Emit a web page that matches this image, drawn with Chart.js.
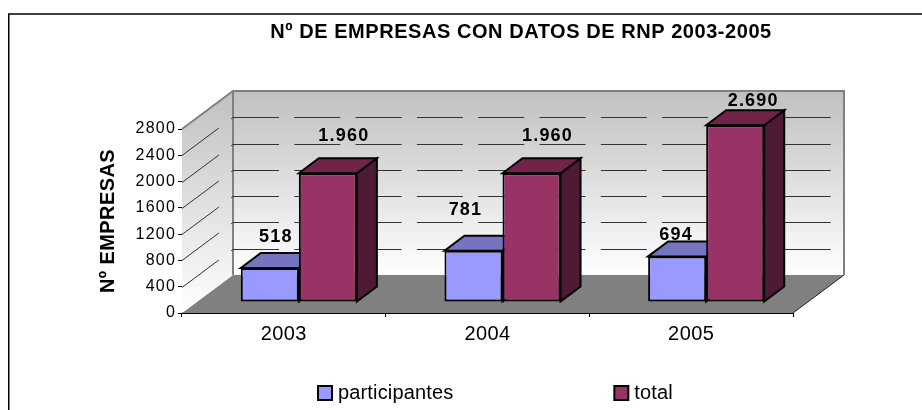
<!DOCTYPE html>
<html><head><meta charset="utf-8">
<style>html,body{margin:0;padding:0;background:#fff}canvas{display:block}</style>
<script src="https://cdn.jsdelivr.net/npm/chart.js@4"></script></head>
<body><canvas id="c" width="922" height="410"></canvas>
<script>
const categories = ["2003","2004","2005"];
const participantes = [518,781,694];
const total = [1960,1960,2690];
const yTicks = [0,400,800,1200,1600,2000,2400,2800];
const participantesLabels = ["518","781","694"];
const totalLabels = ["1.960","1.960","2.690"];
const labelNudgeP = [[6,-31],[-8,-41],[-1,-21]];
const labelNudgeT = [[16,-37],[16,-37],[18,-24]];
const DX=51, DY=38, BX=15, BY=11, BDX=20, BDY=15;
const FONT='"Liberation Sans", Arial, sans-serif';

function face(ctx,pts,fill){
  ctx.beginPath();pts.forEach((p,i)=>i?ctx.lineTo(p[0],p[1]):ctx.moveTo(p[0],p[1]));ctx.closePath();
  ctx.fillStyle=fill;ctx.fill();ctx.strokeStyle='#000';ctx.lineWidth=2;ctx.lineJoin='miter';ctx.stroke();
}
function spaced(obj,name,px,tx){
  const f=obj[name];
  obj[name]=function(){
    const c=this.ctx||this.chart.ctx;c.letterSpacing=px;
    const ft=c.fillText;
    if(tx)c.fillText=function(s,x,y){return ft.call(c,s,x+tx,y);};
    const r=f.apply(this,arguments);
    if(tx)delete c.fillText;
    c.letterSpacing='0px';return r;
  };
}
const scene={
  id:'scene',
  beforeInit(chart){
    const lg=chart.legend;
    if(lg){const f=lg.fit;lg.fit=function(){f.call(this);this.height=36;};}
  },
  afterLayout(chart){
    const lg=chart.legend,ti=chart.titleBlock;
    const w=lg.lineWidths?lg.lineWidths[0]:0;
    // legend: first box starts at x=318, row starts at y=383
    const shift=318-((lg.left+lg.right-w+157)/2);
    lg.left+=shift;lg.right+=shift;
    lg.top=383-157;lg.bottom=410;
    const mid=(ti.left+ti.right)/2,ts=521-mid;
    ti.left+=ts;ti.right+=ts;
    if(!chart._sp){chart._sp=1;
      spaced(chart.scales.x,'drawLabels','0.4px');
      spaced(chart.scales.y,'drawLabels','1.2px');
      spaced(chart.scales.y,'drawTitle','0.4px');
      spaced(ti,'draw','0.55px');
      spaced(lg,'draw','0.15px',-4);
    }
  },
  beforeDraw(chart){
    const c=chart.ctx;
    c.save();c.fillStyle='#fff';c.fillRect(0,0,922,410);
    c.strokeStyle='#000';c.lineWidth=1.5;
    c.beginPath();c.moveTo(922,14);c.lineTo(8.75,14);c.lineTo(8.75,410);c.stroke();
    c.restore();
  },
  beforeDatasetsDraw(chart){
    const c=chart.ctx,{left:l,right:r,top:t,bottom:b}=chart.chartArea,y=chart.scales.y;
    c.save();
    // floor
    c.beginPath();c.moveTo(l,b);c.lineTo(l+DX,b-DY);c.lineTo(r+DX,b-DY);c.lineTo(r,b);c.closePath();
    c.fillStyle='#808080';c.fill();
    c.beginPath();c.moveTo(r,b);c.lineTo(r+DX,b-DY);c.strokeStyle='#222';c.lineWidth=1;c.stroke();
    // walls
    const g=c.createLinearGradient(0,t-DY,0,b-DY);g.addColorStop(0,'#c0c0c0');g.addColorStop(1,'#ffffff');
    c.fillStyle=g;c.fillRect(l+DX,t-DY,r-l,b-t);
    const g2=c.createLinearGradient(0,t-DY,0,b);g2.addColorStop(0,'#c0c0c0');g2.addColorStop(1,'#ffffff');
    c.beginPath();c.moveTo(l,t);c.lineTo(l+DX,t-DY);c.lineTo(l+DX,b-DY);c.lineTo(l,b);c.closePath();c.fillStyle=g2;c.fill();
    c.strokeStyle='#808080';c.lineWidth=2;
    c.beginPath();c.moveTo(l,t);c.lineTo(l+DX,t-DY);c.lineTo(r+DX,t-DY);c.lineTo(r+DX,b-DY);
    c.moveTo(l+DX,t-DY);c.lineTo(l+DX,b-DY);c.stroke();
    // gridlines
    c.lineWidth=1;c.setLineDash([46,15.3]);c.strokeStyle='#333';
    yTicks.slice(1,-1).forEach(v=>{
      const py=Math.round(y.getPixelForValue(v))+0.5;
      c.beginPath();c.moveTo(l,py);c.lineTo(l+DX,py-DY);c.stroke();
      c.beginPath();c.moveTo(l+DX,py-DY);c.lineTo(r+DX-12,py-DY);c.stroke();
    });
    c.setLineDash([]);
    // bar depth faces
    c.translate(BX,-BY);
    const sides=[['#7575bf','#4c4c7f'],['#722448','#4f1a33']];
    [0,1].forEach(di=>{
      chart.getDatasetMeta(di).data.forEach(bar=>{
        const x0=bar.x-bar.width/2,x1=bar.x+bar.width/2,top=bar.y,bot=bar.base;
        face(c,[[x1,top],[x1+BDX,top-BDY],[x1+BDX,bot-BDY],[x1,bot]],sides[di][1]);
        face(c,[[x0,top],[x0+BDX,top-BDY],[x1+BDX,top-BDY],[x1,top]],sides[di][0]);
      });
    });
  },
  afterDatasetsDraw(chart){
    const c=chart.ctx;
    c.restore();
    c.save();
    c.fillStyle='#000';c.font='bold 18px '+FONT;c.textAlign='center';c.textBaseline='middle';c.letterSpacing='1.2px';
    [[participantesLabels,labelNudgeP],[totalLabels,labelNudgeT]].forEach((s,di)=>{
      chart.getDatasetMeta(di).data.forEach((bar,i)=>{
        c.fillText(s[0][i],bar.x+BX+s[1][i][0],bar.y-BY+s[1][i][1]);
      });
    });
    c.restore();
  }
};
new Chart(document.getElementById('c'),{
  type:'bar',
  data:{labels:categories,datasets:[
    {label:'participantes',data:participantes,backgroundColor:'#9999ff',borderColor:'#000',borderWidth:2,borderSkipped:false,clip:false},
    {label:'total',data:total,backgroundColor:'#993366',borderColor:'#000',borderWidth:2,borderSkipped:false,clip:false}
  ]},
  plugins:[scene],
  options:{
    responsive:false,animation:false,devicePixelRatio:1,
    layout:{padding:{left:0,right:129,top:0,bottom:0}},
    datasets:{bar:{categoryPercentage:0.57,barPercentage:1}},
    plugins:{
      title:{display:true,text:'Nº DE EMPRESAS CON DATOS DE RNP 2003-2005',color:'#000',fullSize:true,
        font:{family:FONT,size:20,weight:'bold'},padding:{top:20,bottom:85}},
      legend:{display:true,position:'bottom',fullSize:true,
        labels:{boxWidth:14,boxHeight:14,padding:157,color:'#000',font:{family:FONT,size:20}}},
      tooltip:{enabled:false}
    },
    scales:{
      x:{offset:true,grid:{display:true,drawOnChartArea:false,color:'#000',tickLength:4,offset:true},
        border:{color:'#000',width:1},
        ticks:{color:'#000',padding:5,maxRotation:0,font:{family:FONT,size:20}},
        afterFit(s){s.height=61;}},
      y:{min:0,max:2800,
        afterBuildTicks(s){s.ticks=yTicks.map(v=>({value:v}));},
        grid:{display:true,drawOnChartArea:false,color:'#000',tickLength:4},
        border:{color:'#000',width:1},
        ticks:{color:'#000',padding:2,font:{family:FONT,size:16},callback:v=>String(v)},
        title:{display:true,text:'Nº EMPRESAS',color:'#000',font:{family:FONT,size:20,weight:'bold'},padding:{top:96,bottom:0}},
        afterFit(s){s.width=182;}}
    }
  }
});
</script></body></html>
